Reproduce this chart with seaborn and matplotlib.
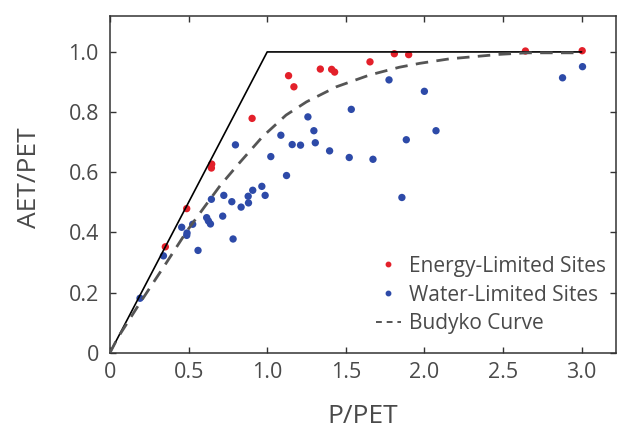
import matplotlib
matplotlib.use("Agg")
import matplotlib.pyplot as plt
from matplotlib.lines import Line2D
import seaborn as sns
import pandas as pd

# ---- data ----
energy_x = [0.352, 0.488, 0.645, 0.647, 0.904, 1.136, 1.170, 1.338, 1.410, 1.429,
            1.654, 1.809, 1.900, 2.643, 3.004]
energy_y = [0.352, 0.479, 0.614, 0.627, 0.779, 0.921, 0.884, 0.943, 0.942, 0.933,
            0.967, 0.994, 0.991, 1.003, 1.004]

water_x = [0.191, 0.340, 0.456, 0.490, 0.488, 0.526, 0.560, 0.615, 0.626, 0.639,
           0.645, 0.717, 0.724, 0.775, 0.783, 0.798, 0.834, 0.879, 0.881, 0.908,
           0.966, 0.987, 1.023, 1.087, 1.123, 1.159, 1.212, 1.259, 1.297, 1.306,
           1.397, 1.522, 1.535, 1.673, 1.775, 1.857, 1.885, 2.000, 2.074, 2.879,
           3.006]
water_y = [0.181, 0.322, 0.417, 0.398, 0.390, 0.427, 0.340, 0.449, 0.438, 0.428,
           0.510, 0.454, 0.523, 0.502, 0.378, 0.691, 0.484, 0.520, 0.498, 0.540,
           0.553, 0.523, 0.652, 0.723, 0.589, 0.692, 0.690, 0.784, 0.738, 0.698,
           0.671, 0.649, 0.809, 0.643, 0.907, 0.516, 0.708, 0.869, 0.738, 0.914,
           0.951]

budyko_x = [0.0, 0.05, 0.19, 0.36, 0.49, 0.60, 0.70, 0.82, 0.97, 1.12, 1.25,
            1.44, 1.65, 1.84, 1.97, 2.16, 2.48, 2.65, 3.00]
budyko_y = [0.0, 0.05, 0.165, 0.30, 0.405, 0.484, 0.555, 0.629, 0.718, 0.79, 0.834,
            0.884, 0.923, 0.949, 0.962, 0.977, 0.992, 0.997, 0.997]

limit_x = [0.0, 1.0, 3.0]
limit_y = [0.0, 1.0, 1.0]

x_ticks = [0, 0.5, 1.0, 1.5, 2.0, 2.5, 3.0]
x_tick_labels = ["0", "0.5", "1.0", "1.5", "2.0", "2.5", "3.0"]
y_ticks = [0, 0.2, 0.4, 0.6, 0.8, 1.0]
y_tick_labels = ["0", "0.2", "0.4", "0.6", "0.8", "1.0"]

labels = ["Energy-Limited Sites", "Water-Limited Sites", "Budyko Curve"]
RED = "#E3202A"
BLUE = "#2D4AA8"
GRAY = "#555555"
TXT = "#4a4a4a"

# ---- build table ----
pts = pd.DataFrame({
    "x": energy_x + water_x,
    "y": energy_y + water_y,
    "site": [labels[0]] * len(energy_x) + [labels[1]] * len(water_x),
})

sns.set_style("ticks")
plt.rcParams["font.family"] = ["Open Sans", "DejaVu Sans"]

fig = plt.figure(figsize=(6.18, 4.28), dpi=100)
ax = fig.add_axes([0.178, 0.176, 0.819, 0.787])

sns.scatterplot(data=pts, x="x", y="y", hue="site",
                palette={labels[0]: RED, labels[1]: BLUE},
                s=28, linewidth=0, ax=ax, legend=False, zorder=2)
sns.lineplot(x=limit_x, y=limit_y, color="black", linewidth=1.2, ax=ax,
             zorder=3, sort=False, estimator=None)
sns.lineplot(x=budyko_x, y=budyko_y, color=GRAY, linewidth=2.0, ax=ax,
             zorder=3, sort=False, estimator=None, dashes=False,
             linestyle=(0, (4.5, 3)))

ax.set_xlim(0, 3.22)
ax.set_ylim(0, 1.12)
ax.set_xticks(x_ticks)
ax.set_xticklabels(x_tick_labels)
ax.set_yticks(y_ticks)
ax.set_yticklabels(y_tick_labels)

for sp in ax.spines.values():
    sp.set_visible(True)
    sp.set_color("#333333")
    sp.set_linewidth(1.1)

ax.tick_params(direction="in", top=True, right=True, length=4, width=1,
               color="#333333", labelcolor=TXT, labelsize=15.5)
ax.tick_params(axis="x", pad=7)
ax.tick_params(axis="y", pad=8)

ax.set_xlabel("P/PET", fontsize=19, color=TXT, labelpad=15)
ax.set_ylabel("AET/PET", fontsize=19, color=TXT)
ax.yaxis.set_label_coords(-0.135, 0.52)

handles = [
    Line2D([], [], marker="o", linestyle="none", color=RED, markersize=3.2),
    Line2D([], [], marker="o", linestyle="none", color=BLUE, markersize=3.2),
    Line2D([], [], color=GRAY, linewidth=1.4, linestyle=(0, (3, 2.5))),
]
leg = ax.legend(handles, labels, loc="upper left", bbox_to_anchor=(0.525, 0.288),
                frameon=False, fontsize=15, handlelength=1.2, handletextpad=0.4,
                labelspacing=0.38, borderpad=0, borderaxespad=0)
for t in leg.get_texts():
    t.set_color(TXT)

fig.savefig("out.png", dpi=100, facecolor="white")
